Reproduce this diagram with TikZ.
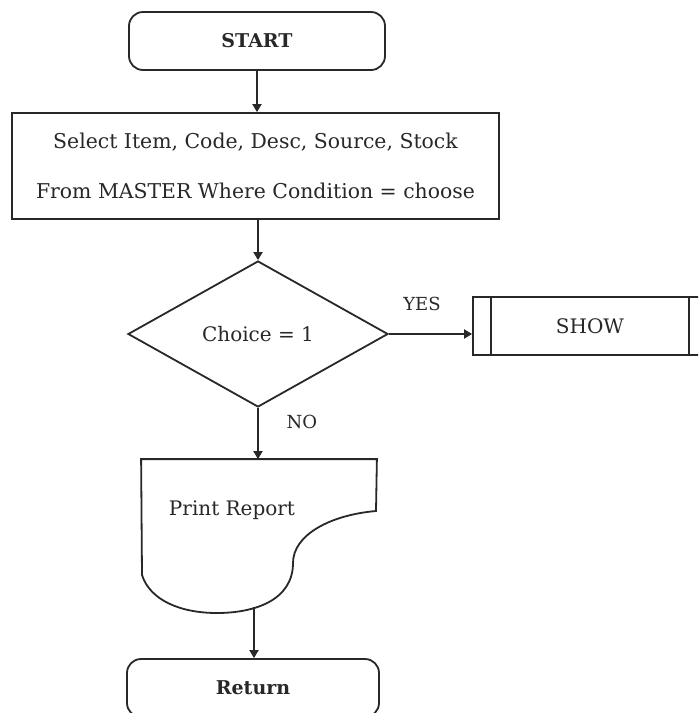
\documentclass[tikz,border=0pt]{standalone}
\usepackage{fontspec}
\setmainfont{DejaVu Serif}
\usepackage{tikz}
\usetikzlibrary{
	arrows.meta,
	calc,
	positioning,
	shapes.geometric
}
\definecolor{InkGray}{RGB}{40,40,40}

\begin{document}
\begin{tikzpicture}[x=0.5pt, y=-0.5pt, line width=0.9pt, color=InkGray,
	>={Triangle[length=4pt, width=4.5pt]},
	term/.style={draw, rounded corners=7pt, minimum height=29pt, font=\bfseries\fontsize{9.5}{11}\selectfont},
	proc/.style={draw, rectangle, align=center, minimum width=243.5pt, minimum height=53pt, font=\fontsize{10.2}{25}\selectfont},
	decide/.style={draw, diamond, aspect=1.78, minimum width=130pt, minimum height=73pt, inner sep=0pt, font=\fontsize{10}{12}\selectfont},
	subproc/.style={draw, rectangle, minimum width=117pt, minimum height=29pt, font=\fontsize{10}{12}\selectfont},
	docbox/.style={rectangle, minimum width=117pt, minimum height=76.5pt, inner sep=0pt},
	lbl/.style={font=\fontsize{9}{11}\selectfont}
	]
		\path[use as bounding box, clip] (0,0) rectangle (698,713);
		\fill[white] (0,0) rectangle (698,713);
		
		% 开始
		\node[term, minimum width=128pt] (start) at (257,41) {START};
		
		% 查询
		\node[proc] (sel) at (255.5,166) {Select Item, Code, Desc, Source, Stock\\From MASTER Where Condition = choose};
		
		% 判断
		\node[decide] (dec) at (258,334) {Choice = 1};
		
		% 子程序 SHOW
		\node[subproc] (show) at (590,326) {SHOW};
		\draw ($(show.north west)+(19,0)$) -- ($(show.south west)+(19,0)$);
		\draw ($(show.north east)+(-19,0)$) -- ($(show.south east)+(-19,0)$);
		
		% 打印报表
		\node[docbox] (print) at (259,536.5) {};
		\draw (print.north west) -- (print.north east) -- (376,511)
			.. controls (330,515) and (293,535) .. (293,563)
			.. controls (293,600) and (255,613) .. (217,613)
			.. controls (180,613) and (150,600) .. (142,575) -- cycle;
		\node[font=\fontsize{10}{12}\selectfont] (printtxt) at (232,510) {Print Report};
		\coordinate (printout) at (254,607);
		
		% 返回
		\node[term, minimum width=126pt] (ret) at (253,688) {Return};
		
		% 连线
		\draw[->] (start.south) -- (start.south |- sel.north);
		\draw[->] (dec.north |- sel.south) -- (dec.north);
		\draw[->] (dec.east) -- (dec.east -| show.west);
		\draw[->] (dec.south) -- (dec.south |- print.north);
		\draw[->] (printout) -- (printout |- ret.north);
		
		% 标签
		\node[lbl] (yes) at (422,304) {YES};
		\node[lbl] (no) at (302,422) {NO};
	\end{tikzpicture}
\end{document}
